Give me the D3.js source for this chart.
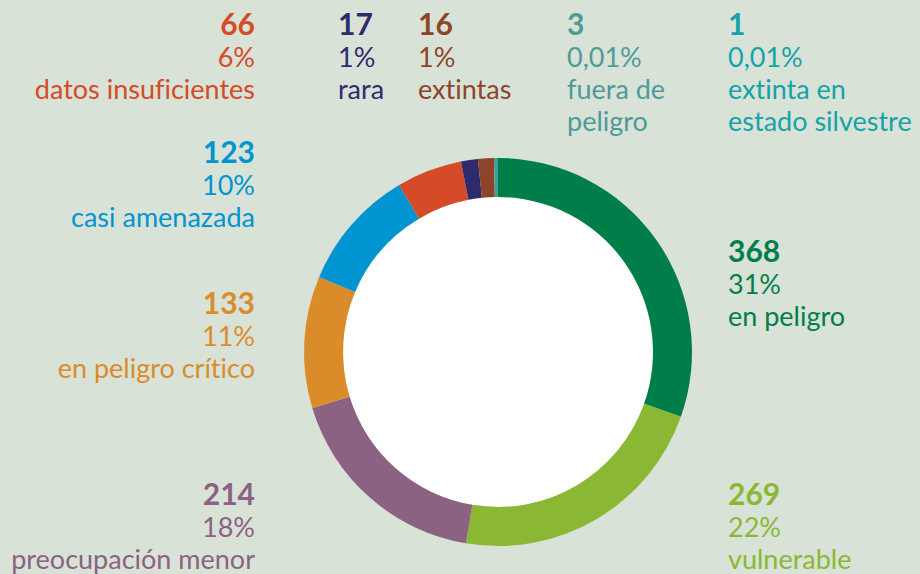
<!DOCTYPE html>
<html>
<head>
<meta charset="utf-8">
<script src="https://cdn.jsdelivr.net/npm/d3@7"></script>
<style>
  html, body { margin: 0; padding: 0; background: #d8e2d7; }
  svg { display: block; }
  text { font-family: Lato, "Open Sans", sans-serif; font-variant-ligatures: none; }
</style>
</head>
<body>
<div id="chart"></div>
<script>
// data
var categories = ["en peligro", "vulnerable", "preocupación menor", "en peligro crítico",
                  "casi amenazada", "datos insuficientes", "rara", "extintas",
                  "fuera de peligro", "extinta en estado silvestre"];
var counts = [368, 269, 214, 133, 123, 66, 17, 16, 3, 1];
var percents = ["31%", "22%", "18%", "11%", "10%", "6%", "1%", "1%", "0,01%", "0,01%"];
var colors = ["#007e4a", "#8ab835", "#8c6283", "#db8c2a", "#0094d0",
              "#d54a27", "#2f2a6e", "#8c452b", "#4e9a97", "#14a3a8"];

// label lines (wrapped text) and where each label block sits
var labelLines = [["en peligro"], ["vulnerable"], ["preocupación menor"], ["en peligro crítico"],
                  ["casi amenazada"], ["datos insuficientes"], ["rara"], ["extintas"],
                  ["fuera de", "peligro"], ["extinta en", "estado silvestre"]];
var labelX = [728, 728, 255, 255, 255, 255, 338, 418, 567, 728];
var labelY = [262, 505, 505, 314, 163, 35, 35, 35, 35, 35];
var labelAnchor = ["start", "start", "end", "end", "end", "end", "start", "start", "start", "start"];

var width = 920, height = 574;
var cx = 498, cy = 352, outerR = 194, innerR = 155;
var lineH = 32;

var svg = d3.select("#chart")
  .append("svg")
    .attr("width", width)
    .attr("height", height);

svg.append("rect")
  .attr("width", width)
  .attr("height", height)
  .attr("fill", "#d8e2d7");

var data = counts.map(function(c, i) { return {i: i, value: c}; });

var pie = d3.pie()
  .sort(null)
  .value(function(d) { return d.value; });

var arc = d3.arc()
  .innerRadius(innerR)
  .outerRadius(outerR);

var g = svg.append("g")
  .attr("transform", "translate(" + cx + "," + cy + ")");

g.append("circle")
  .attr("r", innerR)
  .attr("fill", "#ffffff");

g.selectAll("path")
  .data(pie(data))
  .enter()
  .append("path")
    .attr("d", arc)
    .attr("fill", function(d) { return colors[d.data.i]; });

// labels
var labels = svg.selectAll("g.label")
  .data(data)
  .enter()
  .append("g")
    .attr("class", "label")
    .attr("fill", function(d) { return colors[d.i]; })
    .attr("text-anchor", function(d) { return labelAnchor[d.i]; });

labels.append("text")
  .attr("x", function(d) { return labelX[d.i]; })
  .attr("y", function(d) { return labelY[d.i]; })
  .style("font-size", "30px")
  .style("font-weight", "bold")
  .text(function(d) { return counts[d.i]; });

labels.append("text")
  .attr("x", function(d) { return labelX[d.i]; })
  .attr("y", function(d) { return labelY[d.i] + lineH; })
  .style("font-size", "27px")
  .text(function(d) { return percents[d.i]; });

labels.each(function(d) {
  var sel = d3.select(this);
  labelLines[d.i].forEach(function(line, k) {
    sel.append("text")
      .attr("x", labelX[d.i])
      .attr("y", labelY[d.i] + lineH * (2 + k))
      .style("font-size", "27px")
      .text(line);
  });
});
</script>
</body>
</html>
